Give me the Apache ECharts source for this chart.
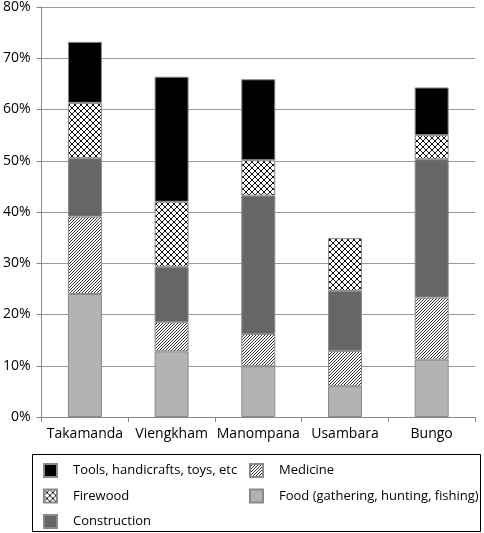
<!DOCTYPE html>
<html>
<head>
<meta charset="utf-8">
<script src="https://cdn.jsdelivr.net/npm/echarts@6/dist/echarts.min.js"></script>
<style>html,body{margin:0;padding:0;background:#fff}#c{width:484px;height:533px}</style>
</head>
<body>
<div id="c"></div>
<script>
const categories = ['Takamanda', 'Viengkham', 'Manompana', 'Usambara', 'Bungo'];
const food = [24.0, 12.8, 9.9, 6.0, 11.2];
const medicine = [15.1, 5.7, 6.3, 6.9, 12.1];
const construction = [11.4, 10.8, 27.0, 11.7, 27.0];
const firewood = [10.8, 12.7, 6.9, 10.3, 4.7];
const tools = [11.9, 24.4, 15.8, null, 9.3];
const yTicks = [0, 10, 20, 30, 40, 50, 60, 70, 80];

const FONT = 'Open Sans';

function hatchPattern() {
  const s = 3;
  const c = document.createElement('canvas');
  c.width = s; c.height = s;
  const g = c.getContext('2d');
  g.fillStyle = '#fff'; g.fillRect(0, 0, s, s);
  g.fillStyle = '#333';
  for (let i = 0; i < s; i++) g.fillRect(i, s - 1 - i, 1, 1);
  return { image: c, repeat: 'repeat' };
}
function crossPattern() {
  const s = 6;
  const c = document.createElement('canvas');
  c.width = s; c.height = s;
  const g = c.getContext('2d');
  g.fillStyle = '#fff'; g.fillRect(0, 0, s, s);
  g.strokeStyle = '#111'; g.lineWidth = 1;
  g.beginPath();
  g.moveTo(0, 0); g.lineTo(s, s);
  g.moveTo(s, 0); g.lineTo(0, s);
  g.stroke();
  return { image: c, repeat: 'repeat' };
}

const border = { borderColor: '#8a8a8a', borderWidth: 1 };
function mk(name, data, color) {
  return {
    name, type: 'bar', stack: 'all', data, barWidth: 34,
    itemStyle: Object.assign({ color }, border),
    emphasis: { disabled: true }
  };
}

const legendCommon = {
  orient: 'vertical', top: 463, itemWidth: 13, itemHeight: 13, itemGap: 10.5,
  padding: 0, height: 80, icon: 'rect',
  textStyle: { fontFamily: FONT, fontSize: 13, color: '#000', padding: [0, 0, 0, 11] },
  selectedMode: false
};

const chart = echarts.init(document.getElementById('c'), null, { renderer: 'canvas' });
chart.setOption({
  animation: false,
  grid: { left: 41, right: 9, top: 5, bottom: 116, containLabel: false },
  xAxis: {
    type: 'category', data: categories,
    axisLine: { lineStyle: { color: '#888', width: 1 } },
    axisTick: { show: true, length: 5, lineStyle: { color: '#888' } },
    axisLabel: { color: '#000', fontFamily: FONT, fontSize: 14, margin: 10, interval: 0, hideOverlap: false }
  },
  yAxis: {
    type: 'value', min: 0, max: 80, interval: 10,
    axisLine: { show: true, lineStyle: { color: '#888', width: 1 } },
    axisTick: { show: true, length: 5, lineStyle: { color: '#888' } },
    splitLine: { lineStyle: { color: '#999', width: 1 } },
    axisLabel: { color: '#000', fontFamily: FONT, fontSize: 14, margin: 11,
      formatter: v => yTicks.includes(v) ? v + '%' : '' }
  },
  legend: [
    Object.assign({}, legendCommon, { left: 43,
      data: ['Tools, handicrafts, toys, etc', 'Firewood', 'Construction'] }),
    Object.assign({}, legendCommon, { left: 249,
      data: ['Medicine', 'Food (gathering, hunting, fishing)'] })
  ],
  graphic: [{
    type: 'rect', shape: { x: 32.5, y: 454.5, width: 448, height: 77 },
    style: { fill: 'none', stroke: '#000', lineWidth: 1 }, silent: true
  }],
  series: [
    mk('Food (gathering, hunting, fishing)', food, '#b3b3b3'),
    mk('Medicine', medicine, hatchPattern()),
    mk('Construction', construction, '#666666'),
    mk('Firewood', firewood, crossPattern()),
    mk('Tools, handicrafts, toys, etc', tools, '#000000')
  ]
});
</script>
</body>
</html>
